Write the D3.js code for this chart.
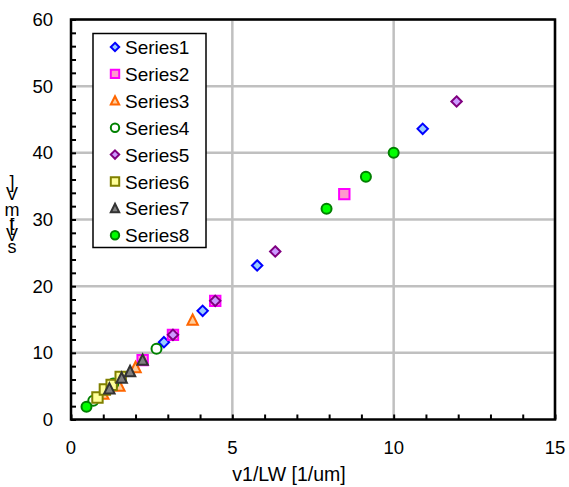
<!DOCTYPE html>
<html>
<head>
<meta charset="utf-8">
<script src="https://cdn.jsdelivr.net/npm/d3@7"></script>
<style>
body { margin: 0; background: #fff; }
text { font-family: "Liberation Sans", Arial, sans-serif; fill: #000; }
</style>
</head>
<body>
<script>
var w = 569;
var h = 487;

//Data - v1/LW [1/um] vs sVt [mV]
var seriesNames = ["Series1", "Series2", "Series3", "Series4", "Series5", "Series6", "Series7", "Series8"];
var series1 = [[2.88, 11.6], [4.08, 16.3], [5.77, 23.1], [10.9, 43.6]];
var series2 = [[2.22, 8.9], [3.16, 12.7], [4.47, 17.8], [8.47, 33.8]];
var series3 = [[1.0, 3.8], [1.5, 5.0], [2.0, 7.8], [3.77, 14.9]];
var series4 = [[0.69, 2.8], [1.31, 5.4], [2.65, 10.6]];
var series5 = [[3.16, 12.7], [4.47, 17.8], [6.33, 25.2], [11.95, 47.7]];
var series6 = [[0.82, 3.3], [1.05, 4.5], [1.26, 5.2], [1.54, 6.4]];
var series7 = [[1.19, 4.6], [1.57, 6.2], [1.83, 7.2], [2.22, 8.9]];
var series8 = [[0.48, 1.9], [7.92, 31.6], [9.14, 36.4], [10.0, 40.0]];
var allSeries = [series1, series2, series3, series4, series5, series6, series7, series8];

var xTicks = [0, 5, 10, 15];
var yTicks = [0, 10, 20, 30, 40, 50, 60];
var xTitle = "v1/LW [1/um]";
var yTitle = "sVt [mV]";

//marker look for each series
var styles = [
    {shape: "diamond", fill: "#99ccff", stroke: "#0000ff"},
    {shape: "square", fill: "#ff99cc", stroke: "#ff00ff"},
    {shape: "triangle", fill: "#ffcc99", stroke: "#ff6600"},
    {shape: "circle", fill: "#ffffff", stroke: "#008000"},
    {shape: "diamond", fill: "#cc99ff", stroke: "#800080"},
    {shape: "square", fill: "#ffff99", stroke: "#808000"},
    {shape: "triangle", fill: "#808080", stroke: "#333333"},
    {shape: "circle", fill: "#00ff00", stroke: "#008000"}
];

function markerPath(shape, r) {
    if (shape == "diamond") return "M0," + (-r) + "L" + r + ",0L0," + r + "L" + (-r) + ",0Z";
    if (shape == "square") return "M" + (-r) + "," + (-r) + "h" + (2 * r) + "v" + (2 * r) + "h" + (-2 * r) + "Z";
    if (shape == "triangle") return "M0," + (-r * 1.1) + "L" + r + "," + (r * 0.9) + "L" + (-r) + "," + (r * 0.9) + "Z";
    return "M" + (-r) + ",0A" + r + "," + r + " 0 1,0 " + r + ",0A" + r + "," + r + " 0 1,0 " + (-r) + ",0Z";
}

var svg = d3.select("body")
            .append("svg")
            .attr("width", w)
            .attr("height", h);

var plotLeft = 71, plotRight = 555, plotTop = 19.5, plotBottom = 419.5;

var xScale = d3.scaleLinear().domain([0, 15]).range([plotLeft, plotRight]);
var yScale = d3.scaleLinear().domain([0, 60]).range([plotBottom, plotTop]);

//grid
svg.selectAll(".gx")
    .data(xTicks.slice(1))
    .enter()
    .append("line")
    .attr("x1", function(d) { return xScale(d); })
    .attr("x2", function(d) { return xScale(d); })
    .attr("y1", plotTop)
    .attr("y2", plotBottom)
    .attr("stroke", "#c0c0c0")
    .attr("stroke-width", 2.5);

svg.selectAll(".gy")
    .data(yTicks.slice(1))
    .enter()
    .append("line")
    .attr("x1", plotLeft)
    .attr("x2", plotRight)
    .attr("y1", function(d) { return yScale(d); })
    .attr("y2", function(d) { return yScale(d); })
    .attr("stroke", "#c0c0c0")
    .attr("stroke-width", 2.5);

//axes, ticks inside
var xAxis = d3.axisBottom(xScale)
            .tickValues(d3.range(0, 16, 1))
            .tickSizeInner(-5)
            .tickSizeOuter(0)
            .tickFormat("");
var yAxis = d3.axisLeft(yScale)
            .tickValues(d3.range(0, 61, 2))
            .tickSizeInner(-5)
            .tickSizeOuter(0)
            .tickFormat("");

svg.append("g")
    .attr("transform", "translate(0," + plotBottom + ")")
    .call(xAxis);
svg.append("g")
    .attr("transform", "translate(" + plotLeft + ",0)")
    .call(yAxis);
svg.selectAll(".tick line").attr("stroke", "#000").attr("stroke-width", 2);
svg.selectAll(".domain").remove();

//frame
svg.append("rect")
    .attr("x", plotLeft)
    .attr("y", plotTop)
    .attr("width", plotRight - plotLeft)
    .attr("height", plotBottom - plotTop)
    .attr("fill", "none")
    .attr("stroke", "#000")
    .attr("stroke-width", 2.5);

//tick labels
svg.selectAll(".xl")
    .data(xTicks)
    .enter()
    .append("text")
    .text(function(d) { return d; })
    .attr("x", function(d) { return xScale(d); })
    .attr("y", 454)
    .attr("text-anchor", "middle")
    .attr("font-size", "18.5px");

svg.selectAll(".yl")
    .data(yTicks)
    .enter()
    .append("text")
    .text(function(d) { return d; })
    .attr("x", 53)
    .attr("y", function(d) { return yScale(d) + 6.5; })
    .attr("text-anchor", "end")
    .attr("font-size", "18.5px");

svg.append("text")
    .text(xTitle)
    .attr("x", 289)
    .attr("y", 481)
    .attr("text-anchor", "middle")
    .attr("font-size", "19.5px");

//y title, characters stacked from bottom up
var ySteps = [253, 241, 230, 231, 231, 216, 200, 188];
yTitle.split("").forEach(function(c, i) {
    svg.append("text")
        .text(c)
        .attr("x", 12)
        .attr("y", ySteps[i])
        .attr("text-anchor", "middle")
        .attr("font-size", "18px");
});

//points
allSeries.forEach(function(data, i) {
    var st = styles[i];
    svg.selectAll(".s" + i)
        .data(data)
        .enter()
        .append("path")
        .attr("d", markerPath(st.shape, st.shape == "circle" ? 5 : 5.2))
        .attr("transform", function(d) { return "translate(" + xScale(d[0]) + "," + yScale(d[1]) + ")"; })
        .attr("fill", st.fill)
        .attr("stroke", st.stroke)
        .attr("stroke-width", 2);
});

//legend
var legend = svg.append("g");
legend.append("rect")
    .attr("x", 93)
    .attr("y", 33.5)
    .attr("width", 113)
    .attr("height", 214)
    .attr("fill", "#fff")
    .attr("stroke", "#000")
    .attr("stroke-width", 1.5);

seriesNames.forEach(function(name, i) {
    var ly = 47 + i * 26.9;
    legend.append("path")
        .attr("d", markerPath(styles[i].shape, 4.2))
        .attr("transform", "translate(115," + ly + ")")
        .attr("fill", styles[i].fill)
        .attr("stroke", styles[i].stroke)
        .attr("stroke-width", 2);
    legend.append("text")
        .text(name)
        .attr("x", 125)
        .attr("y", ly + 7)
        .attr("font-size", "19px");
});
</script>
</body>
</html>
